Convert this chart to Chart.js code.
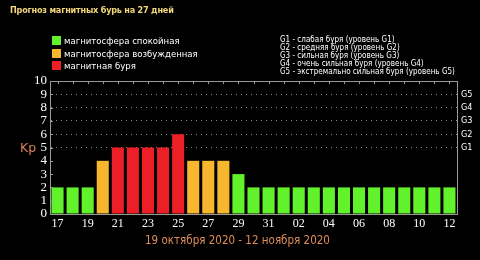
<!DOCTYPE html>
<html>
<head>
<meta charset="utf-8">
<script src="https://cdn.jsdelivr.net/npm/chart.js@4"></script>
<style>
    html, body { margin: 0; padding: 0; background: #000; }
    #wrap { position: relative; width: 480px; height: 260px; background: #000; overflow: hidden; font-family: "DejaVu Sans Condensed", "DejaVu Sans", sans-serif; }
    #kpChart { position: absolute; left: 0; top: 0; }
    .title { position: absolute; left: 10px; top: 5px; color: #f2d77a; font-weight: bold; font-size: 9px; letter-spacing: -0.2px; }
    .legend { position: absolute; left: 52px; top: 35px; color: #fff; font-size: 9.5px; }
    .legend div { height: 12.5px; line-height: 11px; white-space: nowrap; }
    .legend span { display: inline-block; width: 9px; height: 9px; margin-right: 3px; vertical-align: -1px; }
    .glegend { position: absolute; left: 280px; top: 36px; color: #fff; font-size: 8px; }
    .glegend div { height: 8px; line-height: 8px; white-space: nowrap; }
    .kp { position: absolute; left: 20px; top: 140px; color: #d9805c; font-size: 12.5px; font-family: "DejaVu Sans", sans-serif; }
    .range { position: absolute; left: 145px; top: 233px; color: #e08c58; font-size: 11.5px; white-space: nowrap; }
</style>
</head>
<body>
<div id="wrap">
    <canvas id="kpChart" width="480" height="260"></canvas>
    <div class="title">Прогноз магнитных бурь на 27 дней</div>
    <div class="legend" id="legend"></div>
    <div class="glegend" id="glegend"></div>
    <div class="kp">Kp</div>
    <div class="range">19 октября 2020 - 12 ноября 2020</div>
</div>
<script>
// days 17 Oct .. 12 Nov
const days = ['17','18','19','20','21','22','23','24','25','26','27','28','29','30','31',
              '01','02','03','04','05','06','07','08','09','10','11','12'];
const kpValues = [2, 2, 2, 4, 5, 5, 5, 5, 6, 4, 4, 4, 3, 2, 2,
                  2, 2, 2, 2, 2, 2, 2, 2, 2, 2, 2, 2];
const stormLevels = ['G1', 'G2', 'G3', 'G4', 'G5'];   // Kp 5..9
const legendLabels = ['магнитосфера спокойная', 'магнитосфера возбужденная', 'магнитная буря'];
const gLegendLabels = [
    'G1 - слабая буря (уровень G1)',
    'G2 - средняя буря (уровень G2)',
    'G3 - сильная буря (уровень G3)',
    'G4 - очень сильная буря (уровень G4)',
    'G5 - экстремально сильная буря (уровень G5)'
];

const GREEN = '#62f22c', ORANGE = '#f6b62e', RED = '#ec1e26';
const AXIS = '#9a9a9a';

function barColor(v) {
    if (v >= 5) return RED;
    if (v >= 4) return ORANGE;
    return GREEN;
}

document.getElementById('legend').innerHTML = legendLabels
    .map((t, i) => `<div><span style="background:${[GREEN, ORANGE, RED][i]}"></span>${t}</div>`).join('');
document.getElementById('glegend').innerHTML = gLegendLabels.map(t => `<div>${t}</div>`).join('');

// small tick marks along the top border and inside the left axis
const tickMarks = {
    id: 'tickMarks',
    afterDraw(chart) {
        const { ctx, chartArea: a, scales } = chart;
        ctx.save();
        ctx.strokeStyle = AXIS;
        ctx.lineWidth = 1;
        ctx.beginPath();
        days.forEach((d, i) => {
            const x = Math.round(scales.x.getPixelForValue(i)) + 0.5;
            ctx.moveTo(x, a.top);
            ctx.lineTo(x, a.top + 3);
        });
        for (let v = 1; v <= 9; v++) {
            const y = Math.round(scales.y.getPixelForValue(v)) + 0.5;
            ctx.moveTo(a.left, y);
            ctx.lineTo(a.left + 3, y);
        }
        ctx.moveTo(a.left, a.top + 0.5);
        ctx.lineTo(a.right, a.top + 0.5);
        ctx.stroke();
        ctx.restore();
    }
};

new Chart(document.getElementById('kpChart').getContext('2d'), {
    type: 'bar',
    data: {
        labels: days,
        datasets: [{
            data: kpValues,
            backgroundColor: kpValues.map(barColor),
            borderWidth: 0,
            categoryPercentage: 1,
            barPercentage: 0.8
        }]
    },
    options: {
        responsive: false,
        animation: false,
        layout: { padding: { top: 81, left: 0, right: 0, bottom: 0 } },
        plugins: { legend: { display: false }, tooltip: { enabled: false } },
        scales: {
            x: {
                grid: { display: false, drawTicks: false },
                border: { color: AXIS, width: 1 },
                ticks: {
                    color: '#fff',
                    font: { family: 'Liberation Serif', size: 12 },
                    maxRotation: 0,
                    autoSkip: false,
                    padding: 3,
                    callback: (v, i) => (i % 2 === 0 ? days[i] : '')
                },
                afterFit: s => { s.height = 46; }
            },
            y: {
                position: 'left',
                min: 0,
                max: 10,
                grid: {
                    drawTicks: false,
                    color: ctx => (ctx.tick && ctx.tick.value >= 5 && ctx.tick.value <= 9 ? '#8a8a8a' : 'rgba(0,0,0,0)'),
                    lineWidth: 1
                },
                border: { color: AXIS, width: 1, dash: [1, 4] },
                ticks: {
                    color: '#fff',
                    stepSize: 1,
                    autoSkip: false,
                    padding: 3,
                    font: { family: 'Liberation Serif', size: 13 }
                },
                afterFit: s => { s.width = 50; }
            },
            y2: {
                position: 'right',
                min: 0,
                max: 10,
                grid: { display: false, drawTicks: false },
                border: { color: AXIS, width: 1 },
                ticks: {
                    color: '#fff',
                    stepSize: 1,
                    autoSkip: false,
                    padding: 4,
                    font: { family: 'DejaVu Sans Condensed', size: 9 },
                    callback: v => (v >= 5 && v <= 9 ? stormLevels[v - 5] : '')
                },
                afterFit: s => { s.width = 23; }
            }
        }
    },
    plugins: [tickMarks]
});
</script>
</body>
</html>
